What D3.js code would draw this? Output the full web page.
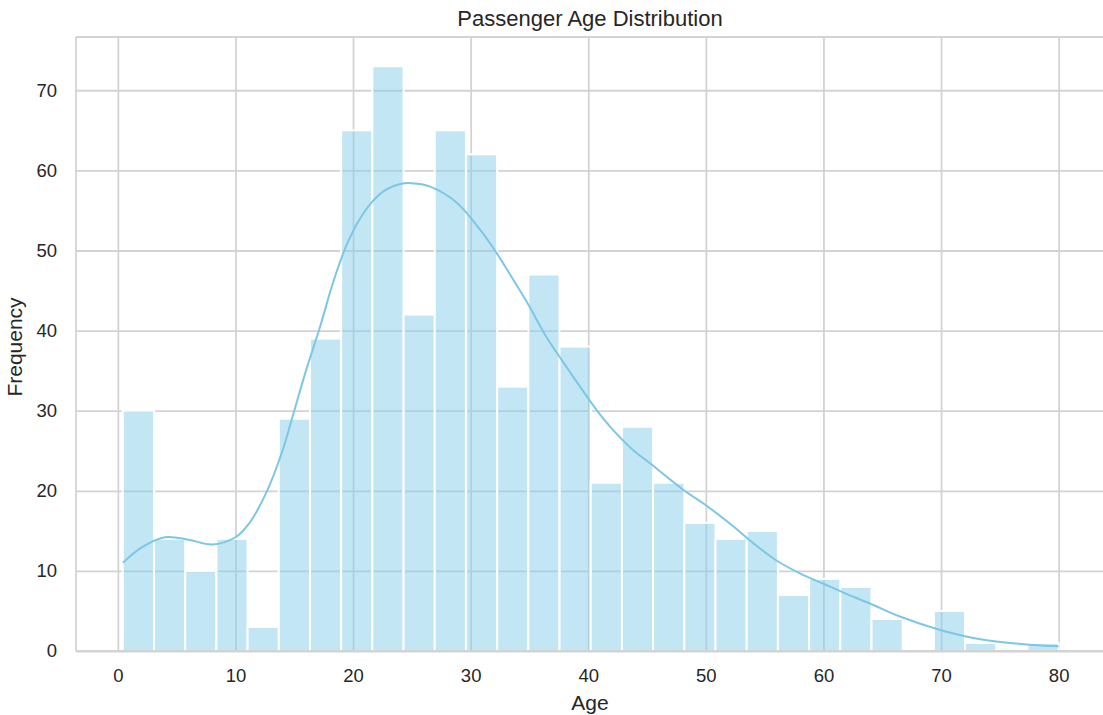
<!DOCTYPE html>
<html>
<head>
<meta charset="utf-8">
<script src="https://cdn.jsdelivr.net/npm/d3@7"></script>
<style>
  html, body { margin: 0; padding: 0; background: #fff; }
  svg { display: block; font-family: "Liberation Sans", Arial, Helvetica, sans-serif; }
</style>
</head>
<body>
<svg id="chart" width="1103" height="715"></svg>
<script>
// ---- data ----
const title = "Passenger Age Distribution";
const xLabel = "Age";
const yLabel = "Frequency";
const ageMin = 0.42;
const ageMax = 80;
const binCounts = [30, 14, 10, 14, 3, 29, 39, 65, 73, 42, 65, 62, 33, 47, 38,
                   21, 28, 21, 16, 14, 15, 7, 9, 8, 4, 0, 5, 1, 0, 1];
const kdeAges = [0.42, 2, 4, 6, 8, 10, 11.2, 12.6, 14, 15, 16, 17.2, 18.3, 19.4, 20.6,
                 21.7, 22.8, 24, 25, 26.5, 28.8, 30.8, 32.2, 33.6, 35, 36.4, 37.9, 39.3,
                 40.7, 42.1, 43.8, 45.2, 48.1, 50, 52.3, 54, 56, 58, 60, 62, 64, 66.5,
                 70, 73.6, 77.8, 80];
const kdeValues = [11, 12.9, 14.2, 13.9, 13.3, 14.2, 16, 19.7, 25, 30, 35, 40.5, 46, 50.5, 54,
                   56.2, 57.6, 58.3, 58.4, 58, 56, 52.6, 49.7, 46.4, 43, 39.3, 36, 33,
                   30.1, 27.6, 25.1, 23.5, 20.1, 18.2, 15.6, 13.5, 11.3, 9.7, 8.4, 7.1, 5.9, 4.3,
                   2.6, 1.4, 0.75, 0.6];
const xTicks = [0, 10, 20, 30, 40, 50, 60, 70, 80];
const yTicks = [0, 10, 20, 30, 40, 50, 60, 70];

// ---- layout ----
const svg = d3.select("#chart");
const plotLeft = 76, plotTop = 37, plotBottom = 651;
const span = ageMax - ageMin;
const xDomain = [ageMin - span * 0.05, ageMax + span * 0.05];
const pxPerUnit = 11.76;
const plotRight = plotLeft + (xDomain[1] - xDomain[0]) * pxPerUnit;
const yTop = d3.max(binCounts) * 1.05;

const x = d3.scaleLinear().domain(xDomain).range([plotLeft, plotRight]);
const y = d3.scaleLinear().domain([0, yTop]).range([plotBottom, plotTop]);

const gridColor = "#d3d3d3";
const textColor = "#262626";

// grid
const gx = svg.append("g")
  .attr("transform", `translate(0,${plotBottom})`)
  .call(d3.axisBottom(x).tickValues(xTicks).tickSize(-(plotBottom - plotTop)).tickFormat(""));
gx.select(".domain").remove();
gx.selectAll("line").attr("stroke", gridColor).attr("stroke-width", 1.8);

const gy = svg.append("g")
  .attr("transform", `translate(${plotLeft},0)`)
  .call(d3.axisLeft(y).tickValues(yTicks).tickSize(-(plotRight - plotLeft)).tickFormat(""));
gy.select(".domain").remove();
gy.selectAll("line").attr("stroke", gridColor).attr("stroke-width", 1.8);

// bars
const binW = span / binCounts.length;
const bins = binCounts.map((c, i) => ({ x0: ageMin + i * binW, x1: ageMin + (i + 1) * binW, c }));
svg.append("g").selectAll("rect")
  .data(bins.filter(d => d.c > 0))
  .join("rect")
  .attr("x", d => x(d.x0))
  .attr("width", d => x(d.x1) - x(d.x0))
  .attr("y", d => y(d.c))
  .attr("height", d => y(0) - y(d.c))
  .attr("fill", "#87CEEB")
  .attr("fill-opacity", 0.5)
  .attr("stroke", "#ffffff")
  .attr("stroke-width", 2);

// spines
svg.append("line").attr("x1", plotLeft).attr("x2", plotLeft).attr("y1", plotTop).attr("y2", plotBottom)
  .attr("stroke", gridColor).attr("stroke-width", 1.8);
svg.append("line").attr("x1", plotLeft).attr("x2", plotRight).attr("y1", plotTop).attr("y2", plotTop)
  .attr("stroke", gridColor).attr("stroke-width", 1.8);
svg.append("line").attr("x1", plotLeft).attr("x2", plotRight).attr("y1", plotBottom).attr("y2", plotBottom)
  .attr("stroke", gridColor).attr("stroke-width", 1.8);

// kde
const kde = kdeAges.map((a, i) => [a, kdeValues[i]]);
svg.append("path")
  .datum(kde)
  .attr("fill", "none")
  .attr("stroke", "#7cc7e5")
  .attr("stroke-width", 2)
  .attr("d", d3.line().x(d => x(d[0])).y(d => y(d[1])).curve(d3.curveCatmullRom));

// tick labels
const xt = svg.append("g")
  .attr("transform", `translate(0,${plotBottom})`)
  .call(d3.axisBottom(x).tickValues(xTicks).tickSize(0).tickPadding(18).tickFormat(d3.format("d")));
xt.select(".domain").remove();
xt.selectAll("text").attr("font-size", 18.5).attr("fill", textColor)
  .attr("font-family", "'Liberation Sans', Arial, sans-serif");

const yt = svg.append("g")
  .attr("transform", `translate(${plotLeft},0)`)
  .call(d3.axisLeft(y).tickValues(yTicks).tickSize(0).tickPadding(19).tickFormat(d3.format("d")));
yt.select(".domain").remove();
yt.selectAll("text").attr("font-size", 18.5).attr("fill", textColor)
  .attr("font-family", "'Liberation Sans', Arial, sans-serif");

// labels
svg.append("text").attr("x", 590).attr("y", 26).attr("text-anchor", "middle")
  .attr("font-size", 22).attr("fill", textColor).text(title);
svg.append("text").attr("x", 590).attr("y", 710).attr("text-anchor", "middle")
  .attr("font-size", 21).attr("fill", textColor).text(xLabel);
svg.append("text").attr("transform", `translate(22,${(plotTop + plotBottom) / 2 + 3}) rotate(-90)`)
  .attr("text-anchor", "middle")
  .attr("font-size", 21).attr("fill", textColor).text(yLabel);
</script>
</body>
</html>
